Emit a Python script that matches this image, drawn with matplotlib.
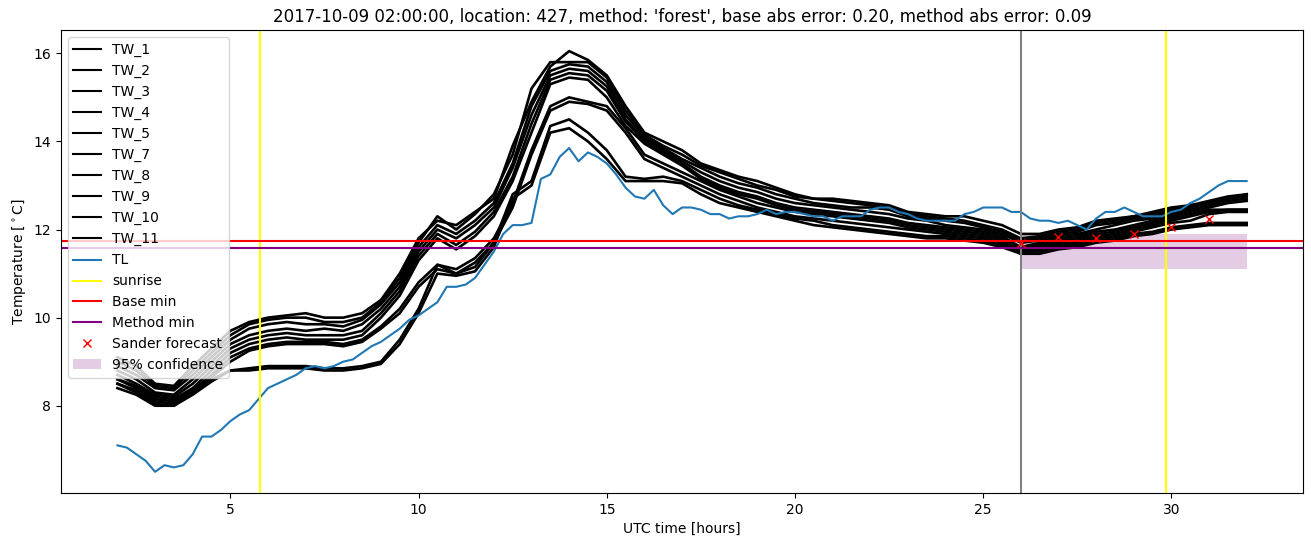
import numpy as np
import matplotlib
matplotlib.use("Agg")
import matplotlib.pyplot as plt

# time grids (hours UTC)
t_tl = np.arange(2.0, 32.01, 0.25)
t_tw = np.arange(2.0, 32.01, 0.5)

tl = [7.1, 7.05, 6.9, 6.75, 6.5, 6.65, 6.6, 6.65, 6.9, 7.3, 7.3, 7.45,
      7.65, 7.8, 7.9, 8.15, 8.4, 8.5, 8.6, 8.7, 8.85, 8.9, 8.85, 8.9,
      9.0, 9.05, 9.2, 9.35, 9.45, 9.6, 9.75, 9.95, 10.05, 10.2, 10.35, 10.7,
      10.7, 10.75, 10.9, 11.2, 11.5, 11.9, 12.1, 12.1, 12.15, 13.15, 13.25, 13.65,
      13.85, 13.55, 13.75, 13.65, 13.5, 13.25, 12.95, 12.75, 12.7, 12.9, 12.55, 12.35,
      12.5, 12.5, 12.45, 12.35, 12.35, 12.25, 12.3, 12.3, 12.35, 12.45, 12.35, 12.4,
      12.4, 12.35, 12.3, 12.3, 12.2, 12.3, 12.3, 12.3, 12.45, 12.5, 12.5, 12.4,
      12.35, 12.25, 12.2, 12.2, 12.2, 12.2, 12.35, 12.4, 12.5, 12.5, 12.5, 12.4,
      12.4, 12.25, 12.2, 12.2, 12.15, 12.2, 12.1, 12.0, 12.25, 12.4, 12.4, 12.5,
      12.4, 12.3, 12.3, 12.3, 12.4, 12.45, 12.6, 12.7, 12.85, 13.0, 13.1, 13.1, 13.1]

tw_1 = [9.1, 8.9, 8.5, 8.45, 8.9, 9.3, 9.7, 9.9, 10.0, 10.05, 10.1, 10.0, 10.0, 10.1,
        10.4, 11.0, 11.8, 12.2, 12.1, 12.4, 12.7, 13.9, 14.9, 15.7, 16.05, 15.85, 15.5,
        14.8, 14.2, 14.0, 13.8, 13.5, 13.35, 13.2, 13.1, 12.95, 12.8, 12.7, 12.7, 12.65,
        12.6, 12.55, 12.4, 12.35, 12.3, 12.3, 12.2, 12.1, 11.9, 11.9, 12.0, 12.05, 12.2,
        12.25, 12.3, 12.4, 12.5, 12.55, 12.65, 12.75, 12.8]
tw_2 = [9.0, 8.8, 8.45, 8.4, 8.8, 9.2, 9.6, 9.85, 9.95, 10.0, 10.0, 9.9, 9.9, 10.0,
        10.35, 10.9, 11.7, 12.3, 12.0, 12.35, 12.8, 13.7, 15.2, 15.8, 15.8, 15.8, 15.45,
        14.7, 14.15, 13.9, 13.7, 13.45, 13.3, 13.15, 13.0, 12.9, 12.75, 12.7, 12.65, 12.6,
        12.55, 12.5, 12.35, 12.3, 12.25, 12.2, 12.1, 12.0, 11.8, 11.85, 11.95, 12.0, 12.15,
        12.2, 12.3, 12.35, 12.45, 12.55, 12.6, 12.7, 12.8]
tw_3 = [8.9, 8.7, 8.4, 8.35, 8.7, 9.1, 9.5, 9.75, 9.85, 9.9, 9.85, 9.85, 9.8, 9.95,
        10.3, 10.8, 11.6, 12.1, 11.9, 12.2, 12.6, 13.5, 14.8, 15.6, 15.75, 15.7, 15.35,
        14.6, 14.1, 13.85, 13.6, 13.4, 13.2, 13.05, 12.95, 12.8, 12.7, 12.6, 12.55, 12.5,
        12.5, 12.45, 12.3, 12.25, 12.2, 12.15, 12.05, 11.95, 11.75, 11.8, 11.9, 11.95, 12.1,
        12.15, 12.25, 12.3, 12.4, 12.5, 12.6, 12.7, 12.75]
tw_4 = [8.8, 8.6, 8.3, 8.25, 8.6, 9.0, 9.4, 9.6, 9.7, 9.75, 9.7, 9.75, 9.7, 9.85,
        10.2, 10.7, 11.5, 12.0, 11.8, 12.1, 12.5, 13.4, 14.6, 15.5, 15.65, 15.6, 15.25,
        14.5, 14.05, 13.8, 13.55, 13.3, 13.1, 12.95, 12.85, 12.7, 12.6, 12.55, 12.5, 12.45,
        12.4, 12.35, 12.25, 12.2, 12.1, 12.05, 12.0, 11.9, 11.7, 11.75, 11.85, 11.9, 12.0,
        12.1, 12.2, 12.25, 12.35, 12.45, 12.55, 12.65, 12.7]
tw_5 = [8.7, 8.5, 8.25, 8.2, 8.5, 8.9, 9.3, 9.5, 9.6, 9.65, 9.6, 9.6, 9.6, 9.7,
        10.1, 10.6, 11.4, 11.9, 11.65, 11.95, 12.4, 13.2, 14.4, 15.4, 15.55, 15.5, 15.15,
        14.45, 14.0, 13.75, 13.5, 13.2, 13.0, 12.85, 12.75, 12.6, 12.5, 12.45, 12.4, 12.35,
        12.3, 12.25, 12.15, 12.1, 12.05, 12.0, 11.95, 11.85, 11.6, 11.7, 11.8, 11.85, 11.95,
        12.0, 12.1, 12.2, 12.3, 12.4, 12.5, 12.6, 12.65]
tw_7 = [8.6, 8.45, 8.2, 8.15, 8.4, 8.8, 9.2, 9.4, 9.5, 9.55, 9.5, 9.5, 9.5, 9.6,
        10.0, 10.5, 11.3, 11.8, 11.55, 11.85, 12.3, 13.1, 14.2, 15.3, 15.45, 15.4, 15.0,
        14.35, 13.95, 13.7, 13.45, 13.15, 12.95, 12.8, 12.7, 12.55, 12.45, 12.4, 12.35, 12.3,
        12.25, 12.2, 12.1, 12.05, 12.0, 11.95, 11.9, 11.8, 11.55, 11.65, 11.75, 11.8, 11.9,
        11.95, 12.05, 12.15, 12.25, 12.35, 12.45, 12.45, 12.45]
tw_8 = [8.6, 8.4, 8.15, 8.1, 8.35, 8.7, 9.1, 9.3, 9.4, 9.45, 9.45, 9.45, 9.4, 9.5,
        9.8, 10.2, 10.8, 11.2, 11.1, 11.35, 11.8, 12.6, 13.8, 14.8, 15.0, 14.9, 14.8,
        14.3, 13.7, 13.5, 13.3, 13.1, 12.9, 12.75, 12.6, 12.5, 12.4, 12.35, 12.3, 12.25,
        12.2, 12.15, 12.05, 12.0, 11.95, 11.9, 11.85, 11.75, 11.5, 11.6, 11.7, 11.75, 11.85,
        11.9, 12.0, 12.1, 12.2, 12.3, 12.4, 12.45, 12.45]
tw_9 = [8.5, 8.35, 8.1, 8.05, 8.3, 8.65, 9.0, 9.25, 9.35, 9.4, 9.4, 9.4, 9.35, 9.45,
        9.75, 10.1, 10.7, 11.1, 11.0, 11.25, 11.7, 12.5, 13.7, 14.7, 14.9, 14.85, 14.7,
        14.2, 13.6, 13.4, 13.2, 13.0, 12.8, 12.65, 12.5, 12.4, 12.3, 12.25, 12.2, 12.15,
        12.1, 12.05, 12.0, 11.95, 11.9, 11.85, 11.8, 11.7, 11.45, 11.55, 11.65, 11.7, 11.8,
        11.85, 11.95, 12.05, 12.15, 12.2, 12.35, 12.4, 12.4]
tw_10 = [8.5, 8.3, 8.05, 8.0, 8.3, 8.6, 8.8, 8.85, 8.9, 8.9, 8.9, 8.85, 8.85, 8.9,
         9.0, 9.5, 10.2, 11.2, 11.0, 11.15, 11.7, 12.8, 13.1, 14.35, 14.5, 14.2, 13.8,
         13.2, 13.15, 13.2, 13.1, 12.9, 12.7, 12.55, 12.45, 12.35, 12.25, 12.2, 12.1, 12.05,
         12.0, 11.95, 11.9, 11.85, 11.85, 11.8, 11.75, 11.65, 11.5, 11.5, 11.6, 11.65, 11.75,
         11.8, 11.9, 11.95, 12.05, 12.1, 12.15, 12.15, 12.15]
tw_11 = [8.4, 8.25, 8.0, 8.0, 8.25, 8.55, 8.8, 8.8, 8.85, 8.85, 8.85, 8.8, 8.8, 8.85,
         8.95, 9.4, 10.1, 11.0, 10.95, 11.05, 11.6, 12.7, 13.0, 14.2, 14.3, 14.0, 13.6,
         13.1, 13.1, 13.1, 13.05, 12.8, 12.6, 12.5, 12.4, 12.3, 12.2, 12.1, 12.05, 12.0,
         11.95, 11.9, 11.85, 11.8, 11.8, 11.75, 11.7, 11.6, 11.45, 11.45, 11.55, 11.6, 11.7,
         11.75, 11.85, 11.9, 12.0, 12.05, 12.1, 12.1, 12.1]

tw_names = ["TW_1", "TW_2", "TW_3", "TW_4", "TW_5", "TW_7", "TW_8", "TW_9", "TW_10", "TW_11"]
tw_all = [tw_1, tw_2, tw_3, tw_4, tw_5, tw_7, tw_8, tw_9, tw_10, tw_11]

sunrise = [5.78, 29.85]
forecast_start = 26.0
base_min = 11.73
method_min = 11.59
sander_t = [26, 27, 28, 29, 30, 31]
sander_v = [11.7, 11.82, 11.8, 11.9, 12.05, 12.23]
conf_t = [26, 32]
conf_lo = 11.1
conf_hi = 11.9

fig, ax = plt.subplots(figsize=(13.11, 5.47), dpi=100)
fig.subplots_adjust(left=0.0465, right=0.994, top=0.945, bottom=0.099)

for name, vals in zip(tw_names, tw_all):
    ax.plot(t_tw, vals, color="black", lw=1.9, label=name)
ax.plot(t_tl, tl, color="tab:blue", lw=1.5, label="TL")
ax.axvline(sunrise[0], color="yellow", label="sunrise")
ax.axvline(sunrise[1], color="yellow")
ax.axvline(forecast_start, color="grey")
ax.axhline(base_min, color="red", label="Base min")
ax.axhline(method_min, color="purple", label="Method min")
ax.plot(sander_t, sander_v, "x", color="red", ls="none", label="Sander forecast")
ax.fill_between(conf_t, conf_lo, conf_hi, color="purple", alpha=0.2, lw=0, label="95% confidence")

ax.set_title("2017-10-09 02:00:00, location: 427, method: 'forest', base abs error: 0.20, method abs error: 0.09")
ax.set_xlabel("UTC time [hours]")
ax.set_ylabel("Temperature [$^\\circ$C]")
leg = ax.legend(loc="upper left")
for h in leg.legend_handles[:len(tw_names)]:
    h.set_linewidth(1.5)
fig.savefig("out.png")
